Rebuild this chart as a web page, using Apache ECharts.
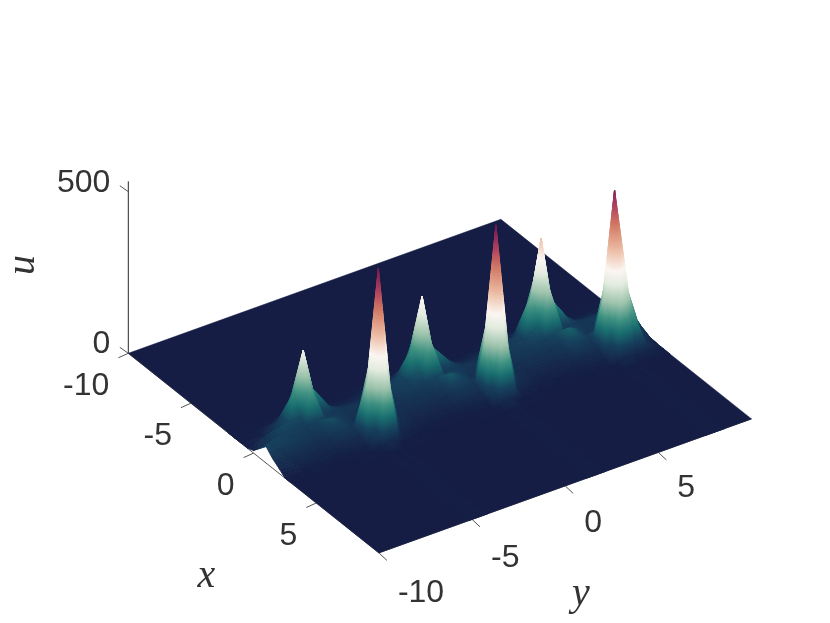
<!DOCTYPE html>
<html><head><meta charset="utf-8">
<style>html,body{margin:0;padding:0;background:#fff}#c{width:830px;height:623px}</style>
<script src="https://cdn.jsdelivr.net/npm/echarts@6/dist/echarts.min.js"></script>
</head><body><div id="c"></div>
<script>
// ---- data ----
const xTicks = [-10, -5, 0, 5];
const yTicks = [-10, -5, 0, 5];
const uTicks = [0, 500];
const xLimits = [-10, 10];
const yLimits = [-10, 10];
const uTop = 532;
const xGrid = [-10, -2, -1.5, -1, -0.5, 0, 0.5, 1, 1.5, 2, 2.5, 3, 3.5, 10];
const yGrid = [-10,-9,-8.1,-7.5,-7,-6.5,-5.65,-5.15,-4.65,-4.15,-3.8,-2.7,-1.8,-1.12,-0.62,-0.12,0.85,1.16,1.66,2.16,2.5,3.6,4.5,5.27,5.77,6.27,7.15,7.53,8.03,8.53,9.2,10];
const uXm100 = [0,0,0,0,0,0,0,0,0,0,0,0,0,0,0,0,0,0,0,0,0,0,0,0,0,0,0,0,0,0,0,0];
const uXm20 = [0,0,0,0,0,0,0,0,0,0,0,0,0,0,0,0,0,0,0,0,0,0,0,0,0,0,0,0,0,0,0,0];
const uXm15 = [0,2,4,6,10,8,6,4,2,2,3,6,10,12,18,10,5,3,2,2,3,5,8,12,18,10,6,4,2,2,2,2];
const uXm10 = [0,5,25,50,130,45,25,12,10,10,14,20,25,58,150,50,25,12,10,10,14,15,15,45,190,65,28,14,10,10,10,10];
const uXm05 = [0,15,55,120,241,110,40,25,22,22,26,35,55,130,276,110,45,28,22,22,26,35,50,160,323,125,50,30,25,25,25,25];
const uX00 = [8,45,60,60,150,45,38,35,35,36,38,42,50,70,170,35,40,38,35,35,38,42,50,75,200,35,42,38,38,40,40,40];
const uX05 = [30,50,48,42,55,48,40,30,30,30,32,36,40,45,55,52,42,32,30,30,32,36,40,46,58,58,45,36,34,36,36,35];
const uX10 = [51,50,40,35,40,64,38,28,35,28,26,28,30,32,38,71,40,28,38,28,26,28,30,32,40,80,42,30,40,36,40,20];
const uX15 = [30,32,28,25,25,40,34,35,250,60,25,22,22,22,24,42,34,40,250,60,25,22,22,22,25,45,36,63,240,65,85,3];
const uX20 = [16,18,16,14,14,18,22,200,523,180,28,14,12,12,14,18,22,200,526,180,28,14,12,12,14,18,24,200,502,220,60,0];
const uX25 = [0,4,5,5,5,6,10,60,250,43,12,5,4,4,5,6,10,60,250,50,12,5,4,4,5,6,10,60,240,150,35,0];
const uX30 = [0,0,0,0,0,1,2,6,20,6,2,0,0,0,0,1,2,6,20,6,2,0,0,0,0,1,2,6,20,8,12,0];
const uX35 = [0,0,0,0,0,0,0,0,2,0,0,0,0,0,0,0,0,0,2,0,0,0,0,0,0,0,0,0,2,0,0,0];
const uX100 = [0,0,0,0,0,0,0,0,0,0,0,0,0,0,0,0,0,0,0,0,0,0,0,0,0,0,0,0,0,0,0,0];
const uRows = [uXm100,uXm20,uXm15,uXm10,uXm05,uX00,uX05,uX10,uX15,uX20,uX25,uX30,uX35,uX100];
const colorStops = [[0,'#151d44'],[53,'#17425e'],[90,'#1a6f70'],[125,'#3f9282'],[170,'#9cc2ab'],[225,'#e3ecdf'],[265,'#fbf6f2'],[330,'#ebb9a0'],[400,'#d27a66'],[460,'#ac3f5e'],[530,'#6e1653']];
// plane under the surface, leaving open the notch where the y = -10 edge lifts off its axis
const planeOutline = [[-10,-10],[-1,-10],[-1,-9],[2.5,-9],[2.5,-10],[10,-10],[10,10],[-10,10]];

// ---- view ----
const O=[128.3,353.3], EX=[12.53,9.98], EY=[18.63,-6.7], EU=0.3232;
const inkTick='#555555', inkAxis='#262626', inkText='#333333';
const sans='32px "Liberation Sans"', serif='italic 40px "Liberation Serif"';
function proj(x,y,u){const a=x-xLimits[0],b=y-yLimits[0];return [O[0]+a*EX[0]+b*EY[0],O[1]+a*EX[1]+b*EY[1]-u*EU];}
const rgbStops=colorStops.map(s=>[s[0],parseInt(s[1].slice(1,3),16),parseInt(s[1].slice(3,5),16),parseInt(s[1].slice(5,7),16)]);
function colour(u){
  if(u<=rgbStops[0][0])return colorStops[0][1];
  for(let k=1;k<rgbStops.length;k++){
    if(u<=rgbStops[k][0]){const A=rgbStops[k-1],B=rgbStops[k],t=(u-A[0])/(B[0]-A[0]);
      return 'rgb('+Math.round(A[1]+(B[1]-A[1])*t)+','+Math.round(A[2]+(B[2]-A[2])*t)+','+Math.round(A[3]+(B[3]-A[3])*t)+')';}
  }
  return colorStops[colorStops.length-1][1];
}
const cells=[];
for(let i=0;i<xGrid.length-1;i++)for(let j=yGrid.length-2;j>=0;j--)cells.push([i,j]);

// one flat face of the surface, cut into colour bands along u
function bands(api,T,kids){
  const v=T.slice().sort((p,q)=>p.u-q.u),lo=v[0],mid=v[1],hi=v[2];
  const du=hi.u-lo.u;
  const n=Math.max(1,Math.min(90,Math.ceil(du*EU/1.5)));
  const at=(A,B,L)=>{const t=(L-A.u)/((B.u-A.u)||1);return [A.p[0]+(B.p[0]-A.p[0])*t,A.p[1]+(B.p[1]-A.p[1])*t];};
  const side=L=>L<=mid.u?(mid.u>lo.u?at(lo,mid,L):mid.p):(hi.u>mid.u?at(mid,hi,L):mid.p);
  for(let k=0;k<n;k++){
    const L0=lo.u+du*k/n,L1=lo.u+du*(k+1)/n;
    const pts=[at(lo,hi,L0),at(lo,hi,L1),side(L1)];
    if(L0<mid.u&&mid.u<L1)pts.push(mid.p);
    pts.push(side(L0));
    const col=colour((L0+L1)/2);
    kids.push({type:'polygon',shape:{points:pts.map(p=>api.coord(p))},style:{fill:col,stroke:col,lineWidth:0.8},silent:true});
  }
}
function renderCell(params,api){
  const i=api.value(0),j=api.value(1);
  const x0=xGrid[i],x1=xGrid[i+1],y0=yGrid[j],y1=yGrid[j+1];
  const V=(x,y,u)=>({p:proj(x,y,u),u});
  const A=V(x0,y0,uRows[i][j]),B=V(x0,y1,uRows[i][j+1]),C=V(x1,y0,uRows[i+1][j]),D=V(x1,y1,uRows[i+1][j+1]);
  if(A.u===0&&B.u===0&&C.u===0&&D.u===0)return null;
  const kids=[];
  const top=Math.max(A.u,B.u,C.u,D.u);
  if(top===A.u||top===D.u){bands(api,[A,B,D],kids);bands(api,[A,C,D],kids);}
  else{bands(api,[A,B,C],kids);bands(api,[B,C,D],kids);}
  return {type:'group',children:kids};
}
function line(api,A,B,col,w){const p=api.coord(A),q=api.coord(B);return {type:'line',shape:{x1:p[0],y1:p[1],x2:q[0],y2:q[1]},style:{stroke:col,lineWidth:w,fill:null},silent:true};}
function txt(api,P,s,font,align,vb,rot){const p=api.coord(P);return {type:'text',x:p[0],y:p[1],rotation:rot||0,style:{text:s,font:font,fill:inkText,textAlign:align,textVerticalAlign:vb},silent:true};}

function renderAxes(params,api){
  const k=[];
  k.push(line(api,proj(xLimits[0],yLimits[0],0),proj(xLimits[0],yLimits[0],uTop),inkAxis,1));
  k.push(line(api,proj(xLimits[0],yLimits[0],0),proj(xLimits[1],yLimits[0],0),inkTick,1));
  k.push(line(api,proj(xLimits[1],yLimits[0],0),proj(xLimits[1],yLimits[1],0),inkTick,1));
  xTicks.forEach(v=>{const p=proj(v,yLimits[0],0);k.push(line(api,p,[p[0]-10,p[1]+4.5],inkTick,1));});
  yTicks.forEach(v=>{const p=proj(xLimits[1],v,0);k.push(line(api,p,[p[0]+8,p[1]+7.5],inkTick,1));});
  uTicks.forEach(v=>{const p=proj(xLimits[0],yLimits[0],v);k.push(line(api,p,[p[0]-8.5,p[1]-6],inkTick,1));});
  const c=colorStops[0][1];
  k.push({type:'polygon',shape:{points:planeOutline.map(q=>api.coord(proj(q[0],q[1],0)))},style:{fill:c,stroke:c,lineWidth:0.5},silent:true});
  return {type:'group',children:k};
}
function renderText(params,api){
  const k=[];
  xTicks.forEach(v=>{const p=proj(v,yLimits[0],0);k.push(txt(api,[p[0]-19,p[1]+33],String(v),sans,'right','middle'));});
  yTicks.forEach(v=>{const p=proj(xLimits[1],v,0);k.push(txt(api,[p[0]+19,p[1]+40-(v+10)*0.3],String(v),sans,'left','middle'));});
  uTicks.forEach(v=>{const p=proj(xLimits[0],yLimits[0],v);k.push(txt(api,[p[0]-18,p[1]-9],String(v),sans,'right','middle'));});
  k.push(txt(api,[206.5,576],'x',serif,'center','middle'));
  k.push(txt(api,[581,594],'y',serif,'center','middle'));
  k.push(txt(api,[23,265],'u',serif,'center','middle',Math.PI/2));
  return {type:'group',children:k};
}

const chart=echarts.init(document.getElementById('c'),null,{renderer:'canvas'});
chart.setOption({
  animation:false,
  backgroundColor:'#ffffff',
  grid:{left:0,right:0,top:0,bottom:0},
  xAxis:{type:'value',min:0,max:830,show:false},
  yAxis:{type:'value',min:0,max:623,inverse:true,show:false},
  series:[
    {type:'custom',clip:false,silent:true,z:1,data:[[0,0]],renderItem:renderAxes},
    {type:'custom',clip:false,silent:true,z:2,progressive:0,data:cells,renderItem:renderCell},
    {type:'custom',clip:false,silent:true,z:3,data:[[0,0]],renderItem:renderText}
  ]
});
</script></body></html>
